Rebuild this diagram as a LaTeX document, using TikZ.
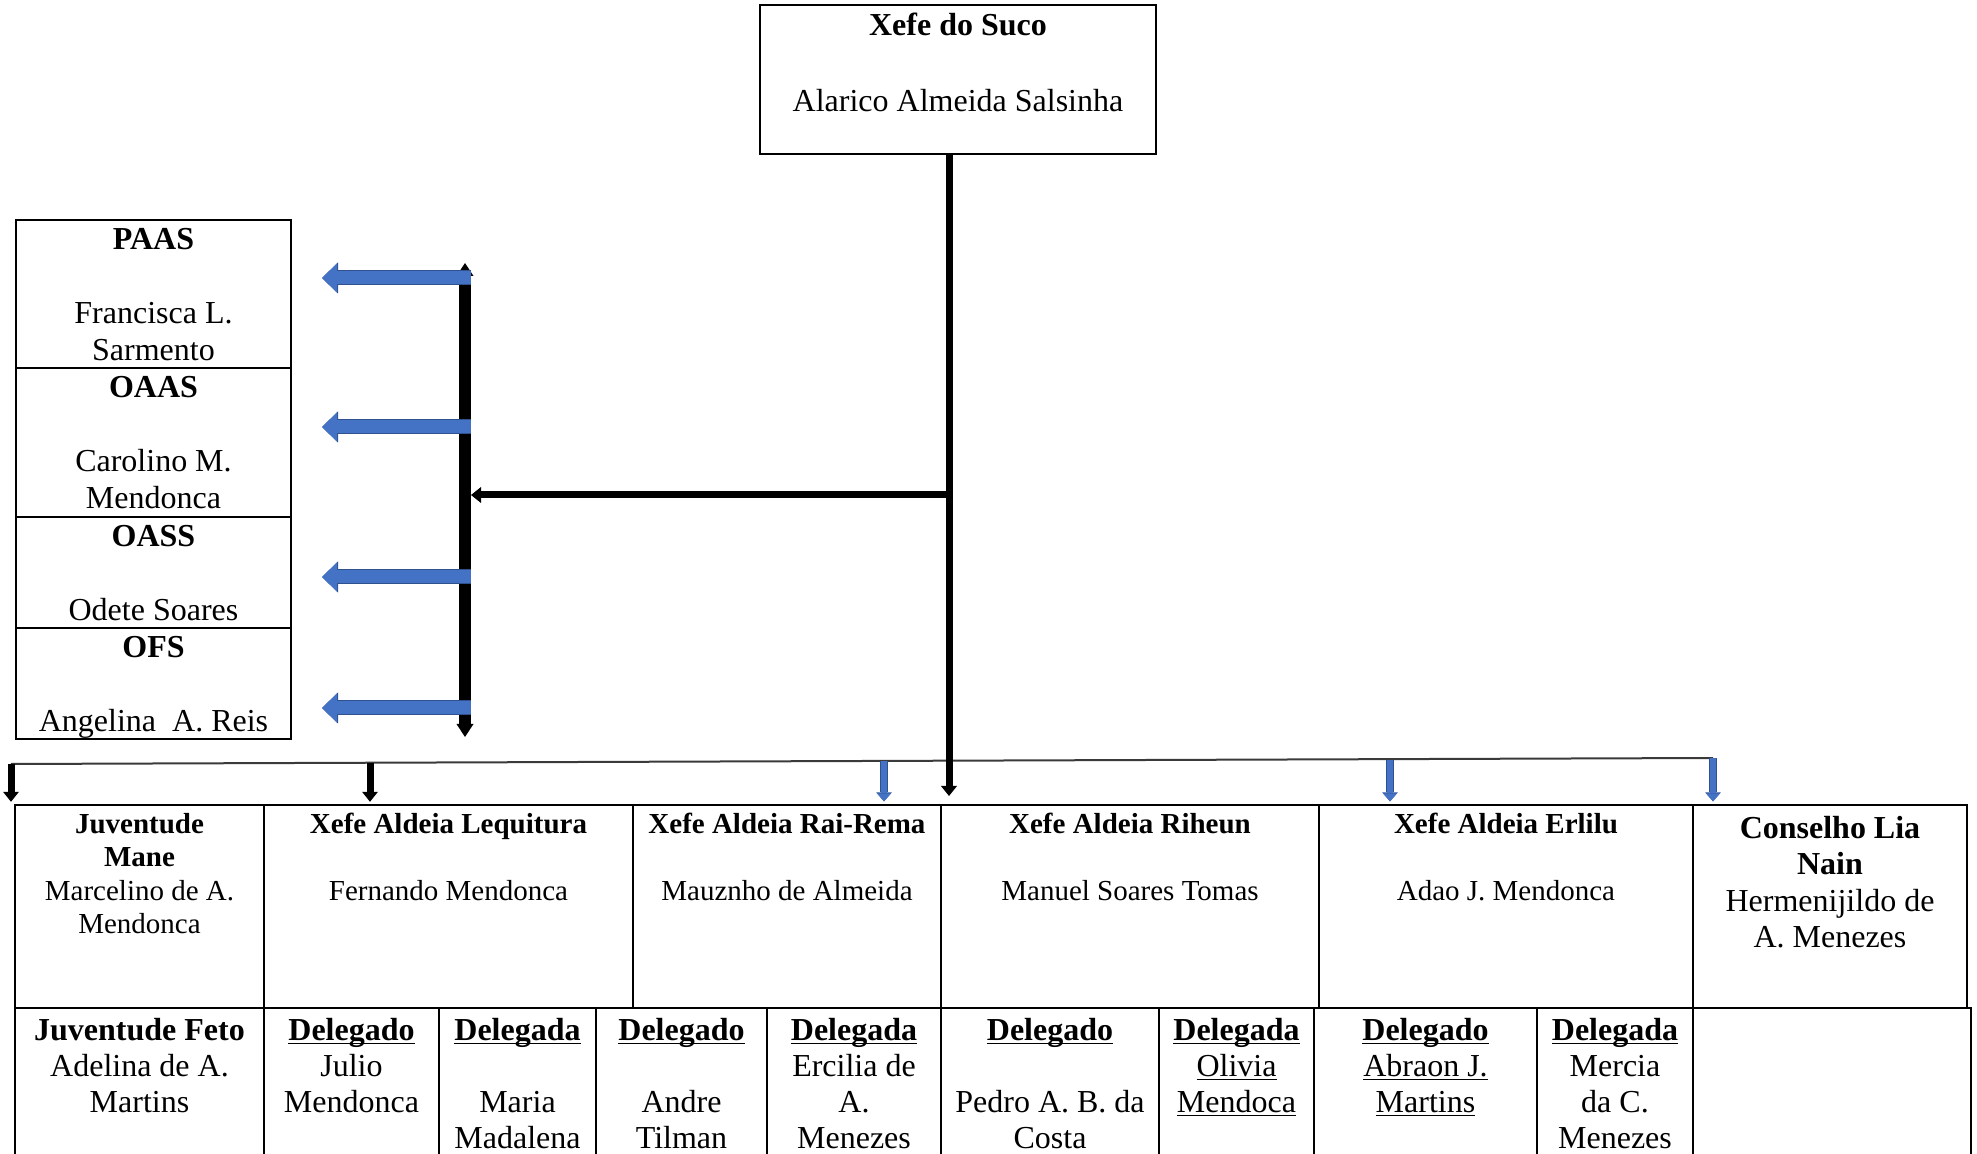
\documentclass[tikz,border=0pt]{standalone}
\usepackage{fontspec}
\setmainfont{Liberation Serif}
\usepackage{xcolor}
\usetikzlibrary{arrows.meta,calc}

\definecolor{officeblue}{HTML}{4472C4}
\definecolor{officeedge}{HTML}{2F528F}
\definecolor{busgray}{HTML}{3A3A3A}

\newlength{\ulwd}
\newcommand{\undl}[1]{\leavevmode\settowidth{\ulwd}{#1}\rlap{\rule[-2.2pt]{\ulwd}{0.9pt}}#1}
\newcommand{\celltext}[4][2.3pt]{\parbox[t][#3][t]{#2}{\centering\vspace*{#1}\strut#4}}

\tikzset{
  cell/.style={draw, line width=1.2pt, inner sep=0pt, outer sep=0pt, anchor=north west, font=\fontsize{14.5}{16.75}\selectfont},
  lowcell/.style={cell, font=\fontsize{16}{18}\selectfont},
  sidebox/.style={cell, line width=1pt, font=\fontsize{16}{18.4}\selectfont},
  chiefbox/.style={cell, font=\fontsize{16}{19}\selectfont},
  blackarrow/.style={line width=3.5pt, -{Triangle[length=5pt, width=8pt, line width=0pt]}, shorten >=1.6pt},
  trunkline/.style={blackarrow, shorten >=4.5pt},
  bar/.style={line width=6pt, {Triangle[length=6.5pt, width=8.5pt, line width=0pt]}-{Triangle[length=6.5pt, width=8.5pt, line width=0pt]}},
  bluearrow/.style={draw=officeblue, line width=6.5pt, -{Triangle[length=7.5pt, width=14.5pt, line width=0pt]},
    shorten >=15.5pt, shorten <=-3pt,
    preaction={draw=officeedge, line width=7.5pt, -{Triangle[length=8pt, width=15.5pt, line width=0pt]}}},
  bluedrop/.style={draw=officeblue, line width=3pt, -{Triangle[length=4pt, width=7pt, line width=0pt]},
    shorten >=1.8pt,
    preaction={draw=officeedge, line width=3.8pt, -{Triangle[length=4.5pt, width=7.8pt, line width=0pt]}}},
  bus/.style={draw=busgray, line width=1pt}
}

\begin{document}
\begin{tikzpicture}[x=0.5pt, y=-0.5pt]
  \useasboundingbox (0,0) rectangle (1977,1154);
  \clip (0,0) rectangle (1977,1154);

  % chief of the suco
  \node[chiefbox] (suco) at (760,5) {\celltext[2pt]{198pt}{74.5pt}{\textbf{Xefe do Suco}\\\mbox{}\\Alarico Almeida Salsinha}};

  % side organisations
  \node[sidebox] (paas) at (16,220) {\celltext[2.1pt]{137.5pt}{74pt}{\textbf{PAAS}\\\mbox{}\\Francisca L.\\Sarmento}};
  \node[sidebox] (oaas) at (paas.south west) {\celltext[2.1pt]{137.5pt}{74.5pt}{\textbf{OAAS}\\\mbox{}\\Carolino M.\\Mendonca}};
  \node[sidebox] (oass) at (oaas.south west) {\celltext[2.1pt]{137.5pt}{55.5pt}{\textbf{OASS}\\\mbox{}\\Odete Soares}};
  \node[sidebox] (ofs) at (oass.south west) {\celltext[2.1pt]{137.5pt}{55.5pt}{\textbf{OFS}\\\mbox{}\\Angelina\ \ A. Reis}};

  % aldeia heads
  \node[cell] (mane) at (15,805) {\celltext{124.5pt}{101.5pt}{\textbf{Juventude}\\\textbf{Mane}\\Marcelino de A.\\Mendonca}};
  \node[cell] (lequitura) at (mane.north east) {\celltext{184.5pt}{101.5pt}{\textbf{Xefe Aldeia Lequitura}\\\mbox{}\\Fernando Mendonca}};
  \node[cell] (rairema) at (lequitura.north east) {\celltext{154pt}{101.5pt}{\textbf{Xefe Aldeia Rai-Rema}\\\mbox{}\\Mauznho de Almeida}};
  \node[cell] (riheun) at (rairema.north east) {\celltext{189pt}{101.5pt}{\textbf{Xefe Aldeia Riheun}\\\mbox{}\\Manuel Soares Tomas}};
  \node[cell] (erlilu) at (riheun.north east) {\celltext{187pt}{101.5pt}{\textbf{Xefe Aldeia Erlilu}\\\mbox{}\\Adao J. Mendonca}};
  \node[cell, font=\fontsize{16}{18.3}\selectfont] (conselho) at (erlilu.north east) {\celltext[3.7pt]{137pt}{101.5pt}{\textbf{Conselho Lia}\\\textbf{Nain}\\Hermenijildo de\\A. Menezes}};

  % delegates
  \node[lowcell] (feto) at (mane.south west) {\celltext[3.4pt]{124.5pt}{90pt}{\textbf{Juventude Feto}\\Adelina de A.\\Martins}};
  \node[lowcell] (julio) at (feto.north east) {\celltext[3.4pt]{87.5pt}{90pt}{\undl{\textbf{Delegado}}\\Julio\\Mendonca}};
  \node[lowcell] (madalena) at (julio.north east) {\celltext[3.4pt]{78.5pt}{90pt}{\undl{\textbf{Delegada}}\\\mbox{}\\Maria\\Madalena}};
  \node[lowcell] (tilman) at (madalena.north east) {\celltext[3.4pt]{85.5pt}{90pt}{\undl{\textbf{Delegado}}\\\mbox{}\\Andre\\Tilman}};
  \node[lowcell] (ercilia) at (tilman.north east) {\celltext[3.4pt]{87pt}{90pt}{\undl{\textbf{Delegada}}\\Ercilia de\\A.\\Menezes}};
  \node[lowcell] (costa) at (ercilia.north east) {\celltext[3.4pt]{109pt}{90pt}{\undl{\textbf{Delegado}}\\\mbox{}\\Pedro A. B. da\\Costa}};
  \node[lowcell] (olivia) at (costa.north east) {\celltext[3.4pt]{77.5pt}{90pt}{\undl{\textbf{Delegada}}\\\undl{Olivia}\\\undl{Mendoca}}};
  \node[lowcell] (abraon) at (olivia.north east) {\celltext[3.4pt]{111.5pt}{90pt}{\undl{\textbf{Delegado}}\\\undl{Abraon J.}\\\undl{Martins}}};
  \node[lowcell] (mercia) at (abraon.north east) {\celltext[3.4pt]{78pt}{90pt}{\undl{\textbf{Delegada}}\\Mercia\\da C.\\Menezes}};
  \node[lowcell] (blank) at (mercia.north east) {\celltext{139pt}{90pt}{}};

  \coordinate (trunk) at ([xshift=-4.5pt]suco.south);
  \coordinate (branch) at (949,495);
  \coordinate (bartop) at (465,263);
  \coordinate (barbot) at (465,737);
  \coordinate (busL) at (11,764);
  \coordinate (busR) at (1713,758);
  \coordinate (drop2) at (370,763);
  \coordinate (drop3) at (884,761);
  \coordinate (drop5) at (1390,760);

  \draw[bus] (busL) -- (busR);
  \draw[trunkline] (trunk) -- (trunk |- riheun.north);
  \draw[blackarrow, shorten >=3pt] (branch) -- (branch -| bartop);
  \draw[bar] (bartop) -- (barbot);
  \foreach \n/\y in {paas/278, oaas/427, oass/577, ofs/708}
    \draw[bluearrow] (bartop |- 0,\y) -- (\n.east |- 0,\y);
  \foreach \src/\tgt/\sty in {busL/mane/blackarrow, drop2/lequitura/blackarrow, drop3/rairema/bluedrop, drop5/erlilu/bluedrop, busR/conselho/bluedrop}
    \draw[\sty] (\src) -- (\src |- \tgt.north);
\end{tikzpicture}
\end{document}
